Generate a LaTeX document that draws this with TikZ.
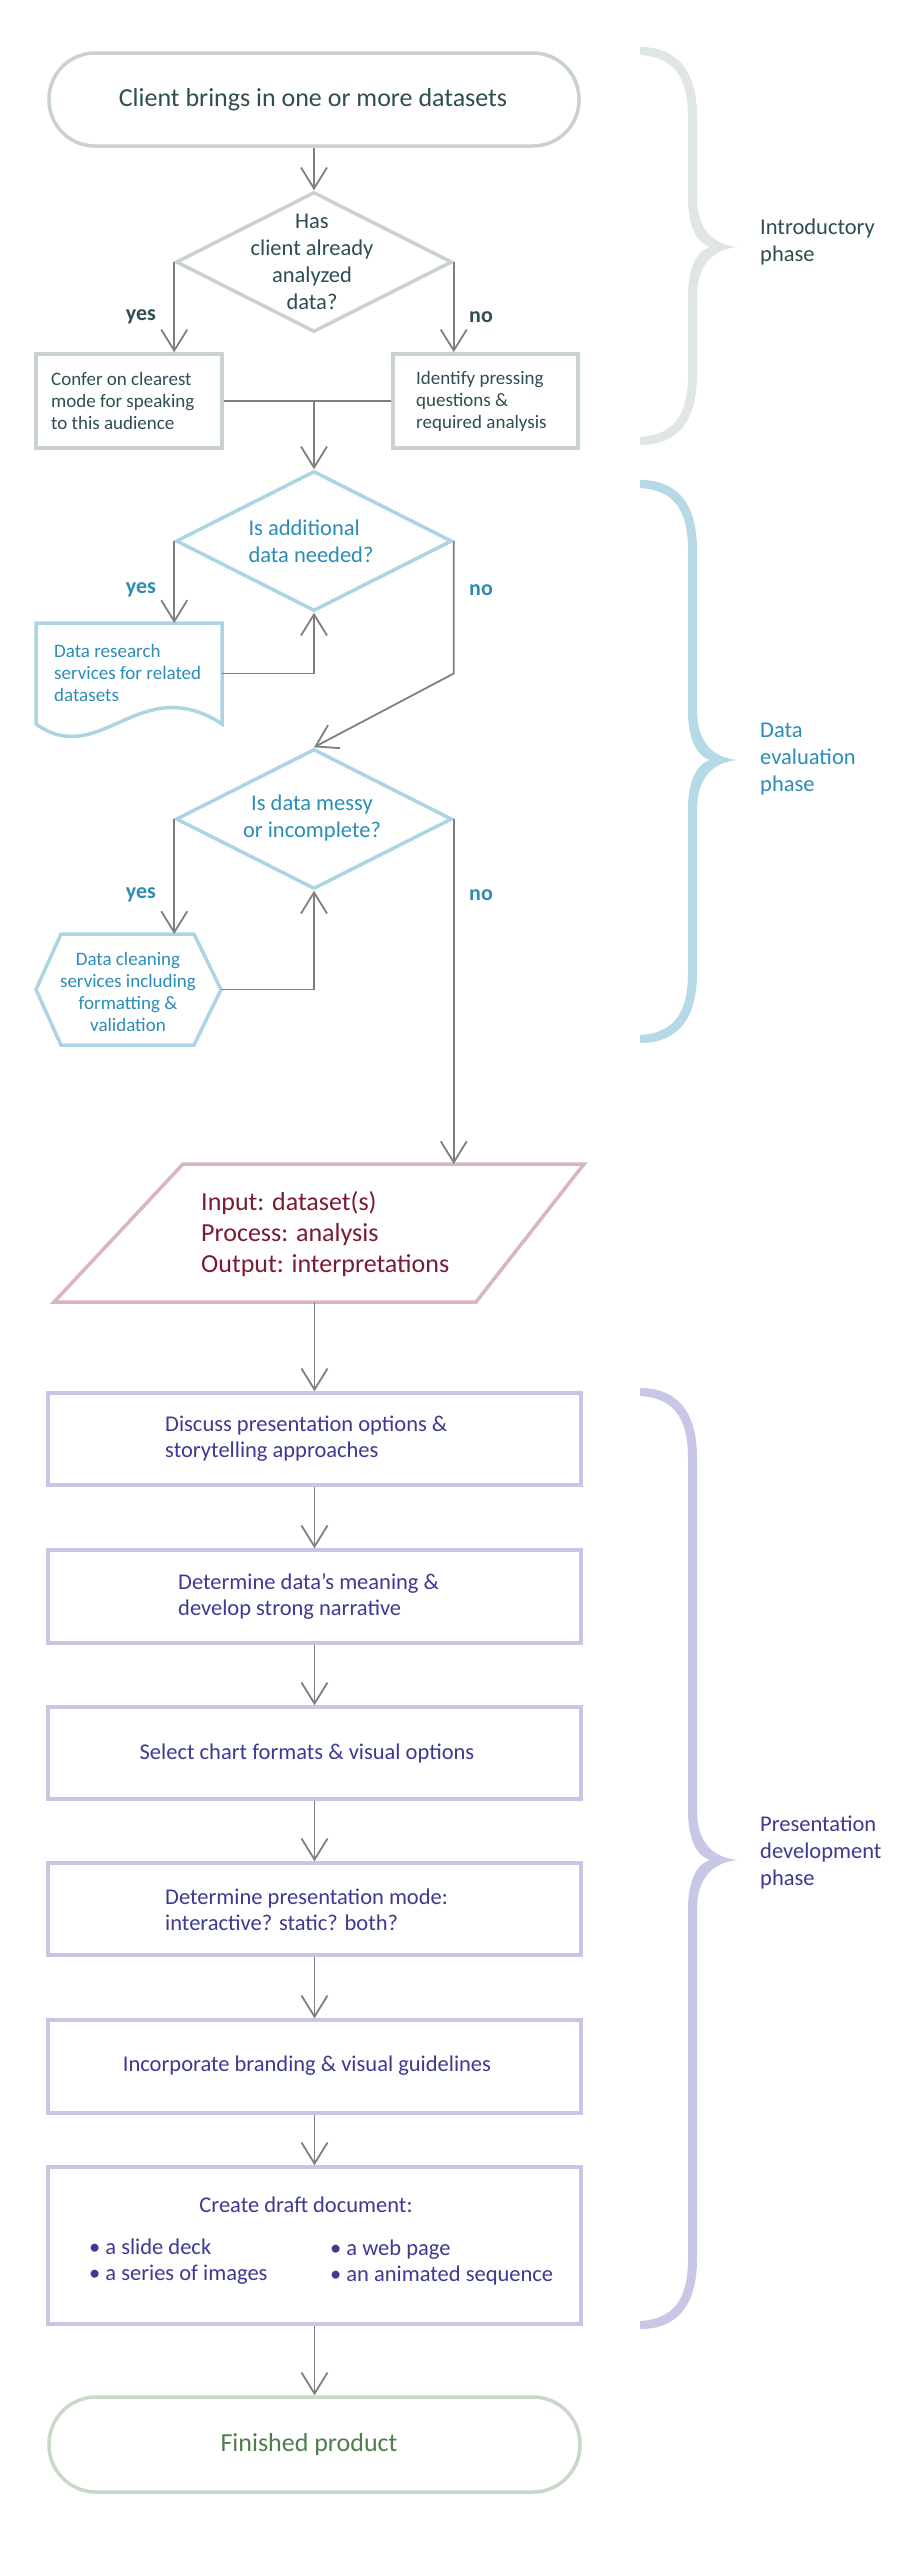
\documentclass[tikz,border=0pt]{standalone}
\usepackage{fontspec}
\setmainfont{Carlito}
\usetikzlibrary{arrows.meta,shapes.geometric,calc}
\definecolor{introC}{HTML}{C9D1D1}
\definecolor{introT}{HTML}{2E4E52}
\definecolor{introB}{HTML}{E0E5E5}
\definecolor{evalC}{HTML}{ABD5E3}
\definecolor{evalT}{HTML}{2B8DB6}
\definecolor{evalB}{HTML}{B5D9E6}
\definecolor{procC}{HTML}{D9B5BC}
\definecolor{procT}{HTML}{7A1B30}
\definecolor{presC}{HTML}{C7C7E5}
\definecolor{presT}{HTML}{3C3A92}
\definecolor{presB}{HTML}{C8C7E5}
\definecolor{endC}{HTML}{C9D8C9}
\definecolor{endT}{HTML}{4E7E4E}
\definecolor{arrC}{HTML}{7F7F7F}
\newcommand{\phasebrace}[4]{%
\fill[#4] (640,#1) .. controls (676,#1) and (697,#1+22) .. (697,#1+70)
  -- (697,#2-50) .. controls (697,#2-18) and (712,#2-3) .. (737,#2)
  .. controls (712,#2+3) and (697,#2+18) .. (697,#2+50)
  -- (697,#3-70) .. controls (697,#3-22) and (676,#3) .. (640,#3)
  -- (640,#3-8) .. controls (674,#3-10) and (688,#3-30) .. (688,#3-70)
  -- (688,#2+50) .. controls (688,#2+15) and (700,#2+3) .. (710,#2)
  .. controls (700,#2-3) and (688,#2-15) .. (688,#2-50)
  -- (688,#1+70) .. controls (688,#1+30) and (674,#1+10) .. (640,#1+8) -- cycle;}
\begin{document}
\begin{tikzpicture}[x=1pt,y=-1pt,
  arr/.style={draw=arrC,line width=1.8pt,-{Straight Barb[length=21pt,width=26pt]}},
  conn/.style={draw=arrC,line width=1.8pt},
  frame/.style={rectangle,draw,line width=3.5pt,inner sep=0pt,fill=white},
  dia/.style={diamond,draw,line width=3.5pt,inner sep=0pt,fill=white,minimum width=276pt,minimum height=140pt},
  ghost/.style={rectangle,inner sep=0pt,outer sep=0pt},
  txt/.style={inner sep=0pt,align=left},
  lbl/.style={inner sep=0pt,font=\bfseries\fontsize{22}{26}\selectfont},
  shapeline/.style={line width=3.5pt,fill=white,line join=miter}
]
\useasboundingbox (0,0) rectangle (913,2560);
\fill[white] (0,0) rectangle (913,2560);

% phase braces
\phasebrace{47}{247}{445}{introB}
\phasebrace{480}{760}{1043}{evalB}
\phasebrace{1388}{1860}{2329}{presB}

% shapes
\node[frame,draw=introC,rounded corners=46pt,minimum width=530pt,minimum height=93pt] (start) at (314,99.5) {};
\node[dia,draw=introC] (d1) at (314,262) {};
\node[frame,draw=introC,minimum width=186pt,minimum height=94pt] (c1) at (129,401) {};
\node[frame,draw=introC,minimum width=185pt,minimum height=94pt] (i1) at (485.5,401) {};
\node[dia,draw=evalC] (d2) at (314,541) {};
\node[ghost,minimum width=186pt,minimum height=101pt] (r1) at (129,673.5) {};
\draw[shapeline,draw=evalC] (r1.south west) -- (r1.north west) -- (r1.north east) -- (r1.south east)
  .. controls (140,670) and (100,770) .. (r1.south west) -- cycle;
\node[dia,draw=evalC] (d3) at (314,819) {};
\node[ghost,minimum width=185pt,minimum height=111pt] (h1) at (128.5,989.5) {};
\draw[shapeline,draw=evalC] ($(h1.north west)+(25,0)$) -- ($(h1.north east)+(-27,0)$) -- (h1.east)
  -- ($(h1.south east)+(-27,0)$) -- ($(h1.south west)+(25,0)$) -- (h1.west) -- cycle;
\node[ghost,minimum width=530pt,minimum height=138pt] (p1) at (319,1233) {};
\draw[shapeline,draw=procC] ($(p1.north west)+(129,0)$) -- (p1.north east) -- ($(p1.south east)+(-108,0)$) -- (p1.south west) -- cycle;
\node[frame,draw=presC,minimum width=533pt,minimum height=92pt] (b1) at (314.5,1439) {};
\node[frame,draw=presC,minimum width=533pt,minimum height=93pt] (b2) at (314.5,1596.5) {};
\node[frame,draw=presC,minimum width=533pt,minimum height=92pt] (b3) at (314.5,1753) {};
\node[frame,draw=presC,minimum width=533pt,minimum height=92pt] (b4) at (314.5,1909) {};
\node[frame,draw=presC,minimum width=533pt,minimum height=93pt] (b5) at (314.5,2066.5) {};
\node[frame,draw=presC,minimum width=533pt,minimum height=157pt] (b6) at (314.5,2245.5) {};
\node[frame,draw=endC,rounded corners=47pt,minimum width=531pt,minimum height=95pt] (fin) at (314.5,2444.5) {};

% connectors
\draw[arr] (start) -- (d1);
\draw[arr] (d1.west) -- (d1.west |- c1.north);
\draw[arr] (d1.east) -- (d1.east |- i1.north);
\draw[conn] (c1.east) -- (i1.west);
\coordinate (m1) at (d1.south |- c1.east);
\draw[arr] (m1) -- (d2.north);
\draw[arr] (d2.west) -- (d2.west |- r1.north);
\draw[arr] (r1.east) -| (d2.south);
\coordinate (k1) at (d2.east |- r1.east);
\draw[arr] (d2.east) -- (k1) -- (d3.north);
\draw[arr] (d3.west) -- (d3.west |- h1.north);
\draw[arr] (h1.east) -| (d3.south);
\draw[arr] (d3.east) -- (d3.east |- p1.north);
\coordinate (k2) at (b1.north |- p1.south);
\draw[arr] (k2) -- (b1.north);
\draw[arr] (b1) -- (b2);
\draw[arr] (b2) -- (b3);
\draw[arr] (b3) -- (b4);
\draw[arr] (b4) -- (b5);
\draw[arr] (b5) -- (b6);
\draw[arr] (b6) -- (fin);

% texts
\node[txt,text=introT,font=\fontsize{26}{30}\selectfont] (tstart) at (313,100) {Client brings in one or more datasets};
\node[txt,align=center,text=introT,font=\fontsize{22.5}{27}\selectfont] (td1) at (312,262) {Has\\client already\\analyzed\\data?};
\node[lbl,text=introT] (yes1) at (141,317) {yes};
\node[lbl,text=introT] (no1) at (481,317) {no};
\node[txt,anchor=west,text=introT,font=\fontsize{19}{22}\selectfont] (tc1) at (51,401) {Confer on clearest\\mode for speaking\\to this audience};
\node[txt,anchor=west,text=introT,font=\fontsize{19}{22}\selectfont] (ti1) at (416,401) {Identify pressing\\questions \&\\required analysis};
\node[txt,anchor=west,text=introT,font=\fontsize{22.5}{27}\selectfont] (tph1) at (760,242) {Introductory\\phase};

\node[txt,text=evalT,font=\fontsize{22.5}{27}\selectfont] (td2) at (311,541) {Is additional\\data needed?};
\node[lbl,text=evalT] (yes2) at (141,590) {yes};
\node[lbl,text=evalT] (no2) at (481,590) {no};
\node[txt,anchor=west,text=evalT,font=\fontsize{19}{22}\selectfont] (tr1) at (54,673) {Data research\\services for related\\datasets};
\node[txt,align=center,text=evalT,font=\fontsize{22.5}{27}\selectfont] (td3) at (312,818) {Is data messy\\or incomplete?};
\node[lbl,text=evalT] (yes3) at (141,895) {yes};
\node[lbl,text=evalT] (no3) at (481,895) {no};
\node[txt,align=center,text=evalT,font=\fontsize{19}{22}\selectfont] (th1) at (128,992) {Data cleaning\\services including\\formatting \&\\validation};
\node[txt,anchor=west,text=evalT,font=\fontsize{22.5}{27}\selectfont] (tph2) at (760,759) {Data\\evaluation\\phase};

\node[txt,anchor=west,text=procT,font=\fontsize{26}{31}\selectfont] (tp1) at (201,1234) {Input: dataset(s)\\Process: analysis\\Output: interpretations};

\node[txt,anchor=west,text=presT,font=\fontsize{22.5}{26}\selectfont] (tb1) at (165,1439) {Discuss presentation options \&\\storytelling approaches};
\node[txt,anchor=west,text=presT,font=\fontsize{22.5}{26}\selectfont] (tb2) at (178,1596) {Determine data’s meaning \&\\develop strong narrative};
\node[txt,text=presT,font=\fontsize{22.5}{26}\selectfont] (tb3) at (307,1753) {Select chart formats \& visual options};
\node[txt,anchor=west,text=presT,font=\fontsize{22.5}{26}\selectfont] (tb4) at (165,1910) {Determine presentation mode:\\interactive? static? both?};
\node[txt,text=presT,font=\fontsize{22.5}{26}\selectfont] (tb5) at (307,2066) {Incorporate branding \& visual guidelines};
\node[txt,text=presT,font=\fontsize{22.5}{26}\selectfont] (tb6) at (306,2205) {Create draft document:};
\node[txt,anchor=west,text=presT,font=\fontsize{22.5}{26}\selectfont] (tb6l) at (89,2262) {•\hspace{5pt}a slide deck\\•\hspace{5pt}a series of images};
\node[txt,anchor=west,text=presT,font=\fontsize{22.5}{26}\selectfont] (tb6r) at (330,2262) {•\hspace{5pt}a web page\\•\hspace{5pt}an animated sequence};
\node[txt,anchor=west,text=presT,font=\fontsize{22.5}{27}\selectfont] (tph3) at (760,1853) {Presentation\\development\\phase};

\node[txt,text=endT,font=\fontsize{26}{30}\selectfont] (tfin) at (309,2445) {Finished product};
\end{tikzpicture}
\end{document}
